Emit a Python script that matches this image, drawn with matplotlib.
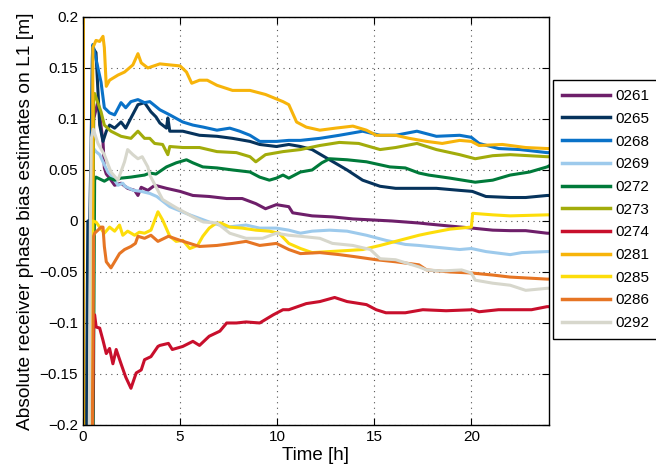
#absolute receiver phase bias estimates per station over one day
#values

import matplotlib
matplotlib.use('Agg')
import matplotlib.pyplot as plt
from matplotlib.ticker import FuncFormatter

plt.rcParams['font.family'] = ['Liberation Sans', 'DejaVu Sans']

stations = ['0261', '0265', '0268', '0269', '0272', '0273',
            '0274', '0281', '0285', '0286', '0292']
colors = ['#6E1F6A', '#06335C', '#0A72C8', '#9DCAEC', '#007A3A', '#A2AC0B',
          '#C80F2C', '#F7B40A', '#FDDD0A', '#E67524', '#D7D7CC']

# time [h] and bias [m] for each station (values off the chart are -0.3/0.3)
t_0261 = [0.35, 0.55, 0.77, 0.86, 1.03, 1.1, 1.2, 1.37, 1.63, 1.96, 2.3, 2.66, 2.83, 3.0, 3.34, 3.7,
          4.3, 5.0, 5.66, 6.5, 7.4, 8.2, 8.9, 9.4, 9.96, 10.6, 10.8, 11.8, 12.85, 13.9, 14.9, 15.9,
          17.3, 17.8, 18.9, 20.05, 21.1, 22.0, 22.8, 23.9, 24.0]
v_0261 = [-0.3, 0.10, 0.117, 0.104, 0.078, 0.052, 0.046, 0.042, 0.035, 0.037, 0.032, 0.030, 0.025, 0.033,
          0.030, 0.035, 0.032, 0.029, 0.025, 0.024, 0.022, 0.022, 0.017, 0.012, 0.016, 0.014, 0.008, 0.005,
          0.004, 0.002, 0.001, 0.000, -0.002, -0.003, -0.005, -0.007, -0.009, -0.0095, -0.0095, -0.012, -0.012]

t_0265 = [0.15, 0.2, 0.25, 0.35, 0.5, 0.67, 0.86, 1.03, 1.2, 1.37, 1.63, 1.96, 2.2, 2.47, 2.83, 3.17,
          3.5, 3.76, 3.96, 4.3, 4.37, 4.47, 5.14, 6.0, 6.9, 7.7, 8.6, 9.1, 9.96, 10.6, 11.2, 11.8, 12.7,
          13.6, 14.4, 15.3, 16.1, 17.3, 18.2, 19.4, 20.05, 20.75, 22.0, 22.8, 23.9, 24.0]
v_0265 = [-0.3, -0.13, 0.0, 0.0, 0.17, 0.165, 0.094, 0.078, 0.088, 0.094, 0.091, 0.097, 0.091, 0.101,
          0.114, 0.116, 0.107, 0.102, 0.096, 0.091, 0.101, 0.088, 0.088, 0.084, 0.083, 0.081, 0.078, 0.075,
          0.073, 0.075, 0.073, 0.070, 0.060, 0.050, 0.040, 0.034, 0.032, 0.032, 0.032, 0.030, 0.029, 0.024,
          0.023, 0.023, 0.025, 0.025]

t_0268 = [0.4, 0.48, 0.51, 0.6, 0.77, 0.93, 1.1, 1.37, 1.63, 1.96, 2.2, 2.47, 2.83, 3.17, 3.44, 3.96,
          4.47, 5.14, 5.66, 6.2, 6.9, 7.56, 8.07, 8.6, 9.1, 9.96, 10.6, 11.2, 12.2, 13.2, 14.4, 15.3,
          16.1, 17.2, 18.2, 19.4, 20.0, 20.4, 21.4, 22.5, 23.9, 24.0]
v_0268 = [-0.3, 0.16, 0.173, 0.165, 0.15, 0.136, 0.111, 0.106, 0.104, 0.116, 0.111, 0.117, 0.119, 0.116,
          0.117, 0.109, 0.104, 0.097, 0.094, 0.092, 0.089, 0.091, 0.088, 0.084, 0.078, 0.078, 0.079, 0.079,
          0.081, 0.084, 0.088, 0.084, 0.084, 0.088, 0.083, 0.084, 0.082, 0.076, 0.071, 0.070, 0.067, 0.067]

t_0269 = [0.35, 0.45, 0.51, 0.67, 0.86, 1.03, 1.28, 1.55, 1.8, 2.05, 2.16, 2.6, 3.0, 3.44, 3.8, 4.47,
          5.5, 6.5, 7.4, 8.4, 9.1, 9.96, 10.6, 11.2, 11.8, 12.7, 13.6, 14.6, 15.6, 16.6, 17.3, 17.8,
          19.4, 20.0, 20.75, 22.0, 22.6, 23.9, 24.0]
v_0269 = [-0.3, 0.06, 0.072, 0.068, 0.065, 0.058, 0.048, 0.042, 0.035, 0.037, 0.034, 0.030, 0.029, 0.027,
          0.024, 0.014, 0.006, -0.001, -0.006, -0.004, -0.007, -0.007, -0.009, -0.012, -0.010, -0.009,
          -0.010, -0.014, -0.019, -0.023, -0.024, -0.025, -0.028, -0.027, -0.030, -0.033, -0.031, -0.030, -0.030]

t_0272 = [0.5, 0.6, 0.67, 1.1, 1.37, 1.63, 1.96, 2.47, 3.17, 3.44, 3.76, 4.3, 4.8, 5.33, 5.66, 6.17,
          6.9, 7.7, 8.6, 9.1, 9.6, 9.96, 10.3, 10.6, 11.2, 11.8, 12.3, 12.7, 13.6, 14.6, 15.8, 16.6,
          17.3, 17.8, 18.9, 20.2, 21.1, 22.0, 23.0, 23.9, 24.0]
v_0272 = [-0.3, 0.04, 0.043, 0.039, 0.042, 0.040, 0.042, 0.043, 0.045, 0.047, 0.046, 0.053, 0.057, 0.060,
          0.057, 0.053, 0.052, 0.050, 0.048, 0.043, 0.040, 0.042, 0.045, 0.042, 0.048, 0.050, 0.057, 0.061,
          0.060, 0.058, 0.053, 0.052, 0.047, 0.045, 0.042, 0.038, 0.040, 0.045, 0.048, 0.053, 0.054]

t_0273 = [0.45, 0.55, 0.6, 0.93, 1.1, 1.44, 1.96, 2.47, 2.83, 3.17, 3.44, 3.69, 4.1, 4.37, 4.47, 5.14,
          6.0, 6.9, 7.9, 8.6, 8.9, 9.4, 10.3, 11.2, 12.2, 13.2, 14.2, 15.3, 16.1, 17.2, 18.2, 19.4,
          20.2, 21.1, 22.0, 23.9, 24.0]
v_0273 = [-0.3, 0.12, 0.125, 0.107, 0.094, 0.088, 0.083, 0.081, 0.088, 0.081, 0.081, 0.076, 0.075, 0.065,
          0.073, 0.072, 0.072, 0.068, 0.067, 0.063, 0.058, 0.065, 0.068, 0.070, 0.074, 0.077, 0.076, 0.070,
          0.072, 0.076, 0.070, 0.065, 0.061, 0.064, 0.065, 0.063, 0.063]

t_0274 = [0.45, 0.55, 0.6, 0.68, 0.86, 1.03, 1.2, 1.37, 1.54, 1.71, 1.96, 2.2, 2.47, 2.74, 3.0, 3.17,
          3.5, 3.86, 3.96, 4.4, 4.6, 5.14, 5.66, 6.0, 6.5, 7.05, 7.4, 7.9, 8.4, 9.1, 9.8, 10.3, 10.6,
          11.5, 12.2, 12.96, 13.6, 14.6, 15.1, 15.6, 16.6, 17.5, 18.7, 20.07, 20.4, 21.4, 23.1, 23.9, 24.0]
v_0274 = [-0.3, -0.095, -0.092, -0.104, -0.105, -0.117, -0.130, -0.125, -0.140, -0.126, -0.140, -0.153,
          -0.164, -0.149, -0.146, -0.136, -0.133, -0.123, -0.122, -0.120, -0.126, -0.123, -0.118, -0.122,
          -0.113, -0.108, -0.100, -0.100, -0.099, -0.100, -0.092, -0.087, -0.087, -0.081, -0.079, -0.075,
          -0.079, -0.082, -0.087, -0.090, -0.090, -0.087, -0.088, -0.087, -0.089, -0.087, -0.087, -0.084, -0.084]

t_0281 = [0.0, 0.02, 0.04, 0.45, 0.51, 0.67, 0.86, 1.03, 1.1, 1.2, 1.37, 1.8, 2.14, 2.57, 2.83, 3.0,
          3.34, 3.96, 4.47, 5.0, 5.33, 5.6, 6.0, 6.4, 6.9, 7.7, 8.6, 9.4, 10.3, 10.6, 11.0, 11.5, 12.2,
          13.0, 13.9, 14.6, 15.1, 16.1, 16.8, 17.7, 18.5, 19.4, 20.0, 20.4, 21.6, 22.8, 23.9, 24.0]
v_0281 = [-0.3, 0.3, -0.3, -0.3, 0.17, 0.177, 0.176, 0.181, 0.17, 0.132, 0.138, 0.143, 0.146, 0.153,
          0.164, 0.155, 0.15, 0.154, 0.153, 0.152, 0.146, 0.135, 0.138, 0.138, 0.133, 0.128, 0.128, 0.124,
          0.117, 0.114, 0.097, 0.092, 0.089, 0.091, 0.093, 0.089, 0.084, 0.084, 0.081, 0.078, 0.076, 0.079,
          0.078, 0.074, 0.075, 0.072, 0.071, 0.071]

t_0285 = [0.3, 0.4, 0.5, 0.67, 0.86, 1.1, 1.37, 1.63, 1.88, 2.05, 2.3, 2.66, 2.9, 3.17, 3.5, 3.86, 4.1,
          4.47, 4.8, 5.14, 5.5, 5.9, 6.17, 6.5, 6.87, 7.1, 7.56, 8.2, 8.9, 9.6, 10.1, 10.6, 11.2, 11.8,
          12.7, 13.6, 14.4, 15.3, 16.1, 17.3, 17.8, 18.9, 20.0, 20.07, 21.1, 22.0, 23.9, 24.0]
v_0285 = [-0.3, -0.1, 0.0, -0.001, -0.006, -0.012, -0.006, -0.010, -0.004, -0.014, -0.010, -0.014,
          -0.011, -0.012, -0.009, 0.009, 0.001, -0.015, -0.020, -0.019, -0.027, -0.024, -0.015, -0.007,
          -0.002, -0.002, -0.006, -0.007, -0.009, -0.010, -0.012, -0.022, -0.027, -0.031, -0.030, -0.029,
          -0.028, -0.024, -0.020, -0.014, -0.012, -0.008, -0.006, 0.0075, 0.006, 0.005, 0.006, 0.006]

t_0286 = [0.45, 0.55, 0.6, 0.77, 0.93, 1.03, 1.1, 1.2, 1.44, 1.63, 1.88, 2.14, 2.47, 2.7, 2.83, 3.17,
          3.5, 3.86, 4.4, 5.0, 5.5, 6.0, 6.9, 7.7, 8.4, 9.1, 9.96, 10.6, 11.2, 12.2, 13.2, 14.0, 15.1,
          16.1, 17.3, 17.7, 18.9, 20.0, 21.1, 22.0, 23.9, 24.0]
v_0286 = [-0.3, -0.015, -0.012, -0.009, -0.006, -0.006, -0.025, -0.040, -0.046, -0.040, -0.032, -0.028,
          -0.025, -0.022, -0.015, -0.017, -0.014, -0.020, -0.015, -0.019, -0.022, -0.025, -0.024, -0.022,
          -0.020, -0.024, -0.022, -0.028, -0.032, -0.031, -0.033, -0.035, -0.038, -0.040, -0.043, -0.048,
          -0.050, -0.051, -0.053, -0.055, -0.057, -0.057]

t_0292 = [0.3, 0.38, 0.43, 0.53, 0.77, 1.1, 1.44, 1.8, 2.14, 2.3, 2.57, 2.83, 3.05, 3.34, 3.44, 3.8,
          4.1, 4.8, 5.66, 6.2, 6.9, 7.56, 8.4, 9.25, 9.96, 10.6, 11.2, 12.2, 12.85, 13.9, 14.8, 15.3,
          16.1, 17.3, 17.7, 18.5, 19.5, 20.0, 20.2, 21.1, 22.0, 22.8, 23.9, 24.0]
v_0292 = [-0.3, 0.0, 0.081, 0.09, 0.076, 0.065, 0.048, 0.040, 0.058, 0.070, 0.065, 0.061, 0.063, 0.053,
          0.045, 0.032, 0.021, 0.013, 0.004, -0.001, -0.002, -0.012, -0.017, -0.017, -0.012, -0.014, -0.015,
          -0.017, -0.022, -0.024, -0.028, -0.037, -0.038, -0.045, -0.048, -0.049, -0.048, -0.051, -0.058,
          -0.061, -0.063, -0.068, -0.066, -0.066]

times = [t_0261, t_0265, t_0268, t_0269, t_0272, t_0273, t_0274, t_0281, t_0285, t_0286, t_0292]
biases = [v_0261, v_0265, v_0268, v_0269, v_0272, v_0273, v_0274, v_0281, v_0285, v_0286, v_0292]

fig = plt.figure(figsize=(6.56, 4.75), dpi=100)
ax = fig.add_axes([0.1265, 0.1053, 0.7104, 0.859])

for name, col, t, v in zip(stations, colors, times, biases):
    ax.plot(t, v, color=col, lw=2.2, label=name)

ax.set_xlim(0, 24)
ax.set_ylim(-0.2, 0.2)
ax.set_xticks([0, 5, 10, 15, 20])
ax.set_yticks([-0.2, -0.15, -0.1, -0.05, 0, 0.05, 0.1, 0.15, 0.2])
ax.yaxis.set_major_formatter(FuncFormatter(lambda y, p: ('%g' % round(y, 3)).replace('-', '\u2212')))
ax.tick_params(direction='in', top=True, right=True, labelsize=11, length=5, width=0.8)
ax.grid(True, linestyle=(0, (1, 4)), color='#555555', lw=0.8)
for s in ax.spines.values():
    s.set_linewidth(1.0)

ax.set_xlabel('Time [h]', fontsize=13.5, labelpad=2)
ax.set_ylabel('Absolute receiver phase bias estimates on L1 [m]', fontsize=13.8, labelpad=4)

leg = ax.legend(loc='upper left', bbox_to_anchor=(1.009, 0.8456), borderaxespad=0,
                fontsize=11, handlelength=3.1, handletextpad=0.4, labelspacing=0.57,
                borderpad=0.6, fancybox=False, edgecolor='black', framealpha=1)
leg.get_frame().set_linewidth(1.0)
for line in leg.get_lines():
    line.set_linewidth(2.5)

fig.savefig('out.png', dpi=100)
